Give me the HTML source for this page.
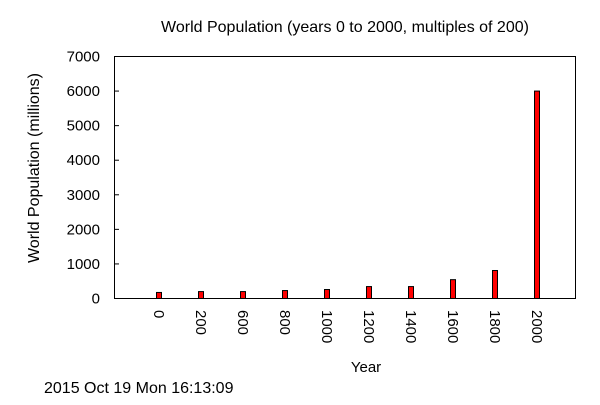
<!DOCTYPE html>
<html><head><meta charset="utf-8"><style>
body{margin:0;background:#fff;font-family:"Liberation Sans",sans-serif}
svg text{font-family:"Liberation Sans",sans-serif;font-size:15px;fill:#000}
.big{font-size:16px}
</style></head><body>
<svg width="600" height="400">
<text class="big" x="345" y="32" text-anchor="middle">World Population (years 0 to 2000, multiples of 200)</text>
<rect x="114.5" y="56.5" width="461" height="242" fill="none" stroke="#000"/>
<g id="yticks"></g><g id="bars"></g><g id="xlabels"></g>
<text class="big" transform="translate(39,168) rotate(-90)" text-anchor="middle">World Population (millions)</text>
<text x="366" y="372" text-anchor="middle">Year</text>
<text class="big" x="44" y="393">2015 Oct 19 Mon 16:13:09</text>
</svg>
<script>
const categories=["0","200","600","800","1000","1200","1400","1600","1800","2000"];
const population=[175,200,200,230,260,345,345,545,810,6000];
const yTicks=[0,1000,2000,3000,4000,5000,6000,7000];
const NS="http://www.w3.org/2000/svg";
const y=v=>298.5-v*(242/7000);
const x=i=>117+42*(i+1);
function mk(t,a,p){const e=document.createElementNS(NS,t);for(const k in a)e.setAttribute(k,a[k]);document.getElementById(p).appendChild(e);return e;}
yTicks.forEach(v=>{
 const l=mk('line',{x1:114.5,x2:119,y1:y(v),y2:y(v),stroke:'#000'},'yticks');
 
 
 const t=mk('text',{x:100,y:y(v)+5,'text-anchor':'end'},'yticks');t.textContent=v;
 
 
});
categories.forEach((c,i)=>{
 const b=mk('rect',{x:x(i)-2.5,y:y(population[i]),width:5,height:298.5-y(population[i]),fill:'#f00',stroke:'#000','stroke-width':1},'bars');
 
 
 const t=mk('text',{transform:`translate(${x(i)-5},310) rotate(90)`},'xlabels');t.textContent=c;
 
 
});
</script>
</body></html>
